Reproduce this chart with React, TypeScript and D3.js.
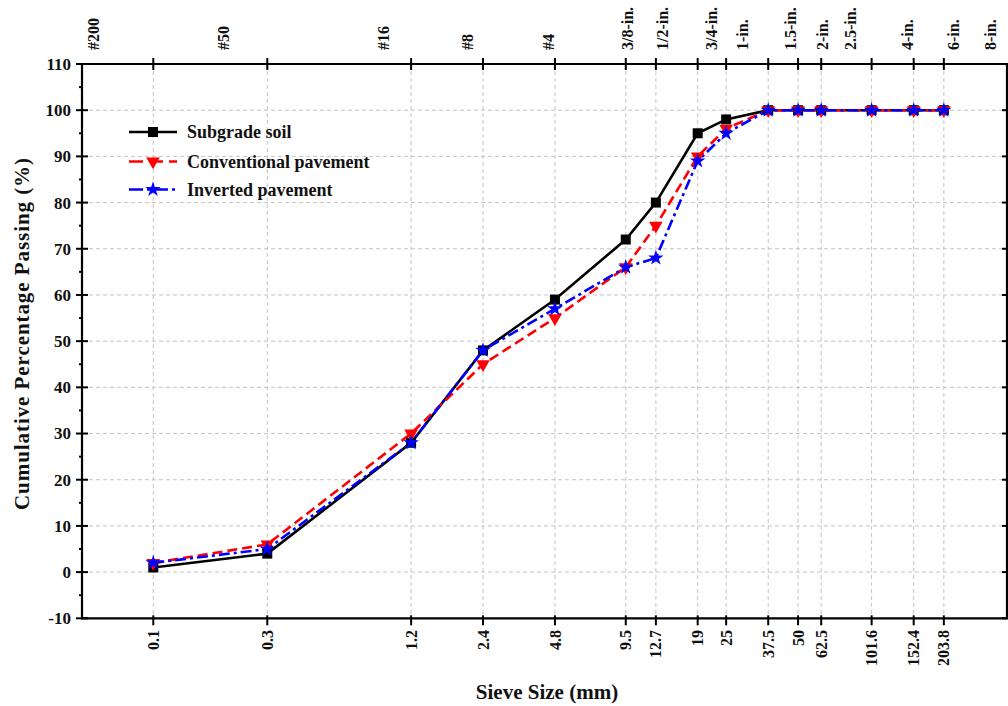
import React from "react";
import * as d3 from "d3";

// ---------- data ----------
const sieveSizes = [0.1, 0.3, 1.2, 2.4, 4.8, 9.5, 12.7, 19, 25, 37.5, 50, 62.5, 101.6, 152.4, 203.8];
const sieveLabels = ["0.1", "0.3", "1.2", "2.4", "4.8", "9.5", "12.7", "19", "25", "37.5", "50", "62.5", "101.6", "152.4", "203.8"];

const subgradeSoil = [1, 4, 28, 48, 59, 72, 80, 95, 98, 100, 100, 100, 100, 100, 100];
const conventionalPavement = [2, 6, 30, 45, 55, 66, 75, 90, 96, 100, 100, 100, 100, 100, 100];
const invertedPavement = [2, 5, 28, 48, 57, 66, 68, 89, 95, 100, 100, 100, 100, 100, 100];

const topLabels = ["#200", "#50", "#16", "#8", "#4", "3/8-in.", "1/2-in.", "3/4-in.", "1-in.", "1.5-in.", "2-in.", "2.5-in.", "4-in.", "6-in.", "8-in."];
// anchor positions of the top labels, in mm on the same log axis
const topLabelAt = [0.0559, 0.1957, 0.915, 2.057, 4.489, 9.61, 13.47, 21.6, 29.1, 46.3, 63.0, 82.5, 142.9, 222.6, 317.9];

const yTicks = [-10, 0, 10, 20, 30, 40, 50, 60, 70, 80, 90, 100, 110];
const yGrid = [0, 10, 20, 30, 40, 50, 60, 70, 80, 90, 100];
const yMinor = [-5, 5, 15, 25, 35, 45, 55, 65, 75, 85, 95, 105];

const xDomain = [0.0503, 374.6];
const yDomain = [-10, 110];

const seriesNames = ["Subgrade soil", "Conventional pavement", "Inverted pavement"];

// ---------- layout ----------
const W = 1008;
const H = 706;
const L = 82;
const R = 1007;
const T = 64;
const B = 618.3;
const FONT = "'Liberation Serif', 'Times New Roman', serif";

export default function App() {
  const x = d3.scaleLog().domain(xDomain).range([L, R]);
  const y = d3.scaleLinear().domain(yDomain).range([B, T]);

  const series = [
    { name: seriesNames[0], values: subgradeSoil, color: "#000000", dash: "none", symbol: d3.symbolSquare, size: 100, rot: 0 },
    { name: seriesNames[1], values: conventionalPavement, color: "#ff0000", dash: "10,5", symbol: d3.symbolTriangle, size: 80, rot: 180 },
    { name: seriesNames[2], values: invertedPavement, color: "#0000ff", dash: "11,4,3,4", symbol: d3.symbolStar, size: 75, rot: 0 },
  ];

  const line = d3
    .line<[number, number]>()
    .x((d) => x(d[0]))
    .y((d) => y(d[1]));

  const legendX0 = 129;
  const legendX1 = 177;
  const legendRows = [132, 161.5, 189.5];

  return (
    <svg
      width={W}
      height={H}
      style={{ position: "absolute", left: 0, top: 0, background: "#fff", fontFamily: FONT }}
      fontFamily={FONT}
    >
      <rect x={0} y={0} width={W} height={H} fill="#fff" />
      {/* grid */}
      <g stroke="#c4c4c4" strokeWidth={1} strokeDasharray="4,3">
        {yGrid.map((v) => (
          <line key={"gy" + v} x1={L} x2={R} y1={y(v)} y2={y(v)} />
        ))}
        {sieveSizes.map((v) => (
          <line key={"gx" + v} x1={x(v)} x2={x(v)} y1={T} y2={B} />
        ))}
      </g>

      {/* series lines */}
      {series.map((s) => (
        <path
          key={"l" + s.name}
          d={line(sieveSizes.map((v, i) => [v, s.values[i]]) as [number, number][]) || ""}
          fill="none"
          stroke={s.color}
          strokeWidth={2.6}
          strokeDasharray={s.dash}
        />
      ))}
      {/* markers */}
      {series.map((s) => (
        <g key={"m" + s.name} fill={s.color}>
          {sieveSizes.map((v, i) => (
            <path
              key={i}
              d={d3.symbol(s.symbol, s.size)() || ""}
              transform={`translate(${x(v)},${y(s.values[i])}) rotate(${s.rot})`}
            />
          ))}
        </g>
      ))}

      {/* axes frame */}
      <g stroke="#000" strokeWidth={2.2} fill="none">
        <line x1={L} x2={L} y1={T - 1} y2={B + 1} />
        <line x1={L - 1} x2={W} y1={B} y2={B} />
        <line x1={L - 1} x2={W} y1={T} y2={T} />
        <line x1={R} x2={R} y1={T} y2={B} />
      </g>

      {/* ticks */}
      <g stroke="#000" strokeWidth={2}>
        {yTicks.map((v) => (
          <line key={"yt" + v} x1={L - 6} x2={L + 6} y1={y(v)} y2={y(v)} />
        ))}
        {yMinor.map((v) => (
          <line key={"ym" + v} x1={L - 3} x2={L} y1={y(v)} y2={y(v)} />
        ))}
        {yTicks.map((v) => (
          <line key={"yr" + v} x1={R - 5} x2={R} y1={y(v)} y2={y(v)} />
        ))}
        {sieveSizes.map((v) => (
          <line key={"xb" + v} x1={x(v)} x2={x(v)} y1={B - 3} y2={B + 7} />
        ))}
        {sieveSizes.map((v) => (
          <line key={"xt" + v} x1={x(v)} x2={x(v)} y1={T - 6} y2={T + 6} />
        ))}
      </g>

      {/* y tick labels */}
      <g fontSize={17} fontWeight="bold" fill="#111" textAnchor="end">
        {yTicks.map((v) => (
          <text key={"yl" + v} x={71} y={y(v)} dy="0.35em">
            {v}
          </text>
        ))}
      </g>

      {/* bottom tick labels */}
      <g fontSize={16} fontWeight="bold" fill="#111" textAnchor="end">
        {sieveSizes.map((v, i) => (
          <text key={"xl" + v} transform={`translate(${x(v)},630) rotate(-90)`} dy="0.35em">
            {sieveLabels[i]}
          </text>
        ))}
      </g>

      {/* top labels */}
      <g fontSize={16} fontWeight="bold" fill="#111" textAnchor="start">
        {topLabelAt.map((v, i) => (
          <text key={"tl" + i} transform={`translate(${x(v)},50) rotate(-90)`} dy="0.35em">
            {topLabels[i]}
          </text>
        ))}
      </g>

      {/* axis titles */}
      <text x={547} y={699} fontSize={21} fontWeight="bold" textAnchor="middle" fill="#111">
        Sieve Size (mm)
      </text>
      <text
        transform="translate(29,334) rotate(-90)"
        fontSize={21}
        fontWeight="bold"
        textAnchor="middle"
        fill="#111"
        textLength={352}
        lengthAdjust="spacing"
      >
        Cumulative Percentage Passing (%)
      </text>

      {/* legend */}
      {series.map((s, i) => (
        <g key={"lg" + i}>
          <line
            x1={legendX0}
            x2={legendX1}
            y1={legendRows[i]}
            y2={legendRows[i]}
            stroke={s.color}
            strokeWidth={2.6}
            strokeDasharray={s.dash === "none" ? "none" : i === 1 ? "14,6" : "14,4,3,4"}
          />
          <path
            d={d3.symbol(s.symbol, s.size)() || ""}
            transform={`translate(${(legendX0 + legendX1) / 2},${legendRows[i]}) rotate(${s.rot})`}
            fill={s.color}
          />
          <text x={187} y={legendRows[i]} dy="0.35em" fontSize={18} fontWeight="bold" fill="#111">
            {s.name}
          </text>
        </g>
      ))}
    </svg>
  );
}
